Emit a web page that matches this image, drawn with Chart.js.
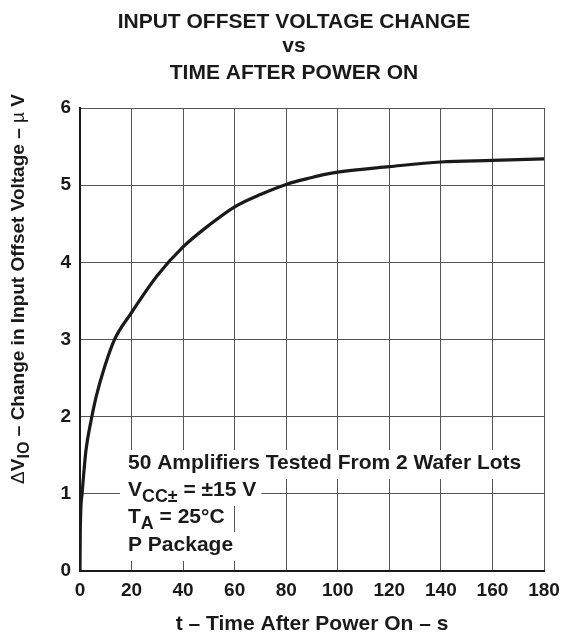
<!DOCTYPE html>
<html>
<head>
<meta charset="utf-8">
<script src="https://cdn.jsdelivr.net/npm/chart.js@4.4.0/dist/chart.umd.min.js"></script>
<style>
  html, body { margin: 0; padding: 0; background: #fff; }
</style>
</head>
<body>
<canvas id="offsetChart" width="562" height="637"></canvas>
<script>
// chart data
const titleLines = ['INPUT OFFSET VOLTAGE CHANGE', 'vs', 'TIME AFTER POWER ON'];
const timeS    = [0, 0.1, 0.8, 2.3, 4.3, 6.2, 9.5, 13.4, 19.6, 30, 40, 50, 60, 70, 80, 90, 95, 100, 120, 140, 160, 180];
const deltaVio = [0, 0.5, 1.0, 1.56, 1.95, 2.25, 2.64, 3.0, 3.33, 3.83, 4.2, 4.48, 4.72, 4.88, 5.01, 5.10, 5.14, 5.17, 5.24, 5.30, 5.32, 5.34];
const xTitle = 't \u2013 Time After Power On \u2013 s';
const noteLines = [
  [{ t: '50 Amplifiers Tested From 2 Wafer Lots' }],
  [{ t: 'V' }, { t: 'CC\u00b1', sub: true }, { t: ' = \u00b115 V' }],
  [{ t: 'T' }, { t: 'A', sub: true }, { t: ' = 25\u00b0C' }],
  [{ t: 'P Package' }]
];

const FONT = '"Liberation Sans", Arial, Helvetica, sans-serif';

function drawRich(ctx, parts, x, y, size) {
  parts.forEach(p => {
    const s = p.sub ? size * 0.85 : size;
    ctx.font = (p.thin ? '' : 'bold ') + s + 'px ' + FONT;
    ctx.fillText(p.t, x, y + (p.sub ? size * 0.28 : 0));
    x += ctx.measureText(p.t).width;
  });
  return x;
}

function richWidth(ctx, parts, size) {
  let w = 0;
  parts.forEach(p => {
    const s = p.sub ? size * 0.85 : size;
    ctx.font = (p.thin ? '' : 'bold ') + s + 'px ' + FONT;
    w += ctx.measureText(p.t).width;
  });
  return w;
}

const textPlugin = {
  id: 'datasheetText',
  afterDraw(chart) {
    const ctx = chart.ctx;
    ctx.save();
    ctx.fillStyle = '#1a1a1a';
    ctx.textBaseline = 'alphabetic';

    // title
    ctx.textAlign = 'center';
    ctx.font = 'bold 21px ' + FONT;
    const titleY = [28, 52, 79];
    titleLines.forEach((l, i) => ctx.fillText(l, 294, titleY[i]));

    // notes with white backing
    ctx.textAlign = 'left';
    const noteX = 128, noteY = [469, 496, 523, 551], size = 21;
    noteLines.forEach((parts, i) => {
      const w = richWidth(ctx, parts, size);
      ctx.fillStyle = '#fff';
      ctx.fillRect(noteX - 8, noteY[i] - 19, w + 13, 29);
    });
    ctx.fillStyle = '#1a1a1a';
    noteLines.forEach((parts, i) => drawRich(ctx, parts, noteX, noteY[i], size));

    // rotated y title
    const yParts = [
      { t: '\u0394', thin: true }, { t: 'V' }, { t: 'IO', sub: true },
      { t: ' \u2013 Change in Input Offset Voltage \u2013 ' }, { t: '\u00b5', thin: true }, { t: ' V' }
    ];
    const yw = richWidth(ctx, yParts, 19);
    ctx.translate(24, 289);
    ctx.rotate(-Math.PI / 2);
    drawRich(ctx, yParts, -yw / 2, 0, 19);
    ctx.restore();
  }
};

new Chart(document.getElementById('offsetChart'), {
  type: 'line',
  data: {
    datasets: [{
      data: timeS.map((t, i) => ({ x: t, y: deltaVio[i] })),
      borderColor: '#1a1a1a',
      borderWidth: 3.2,
      pointRadius: 0,
      fill: false,
      cubicInterpolationMode: 'monotone'
    }]
  },
  options: {
    responsive: false,
    animation: false,
    layout: { padding: { top: 108, right: 18, left: 0, bottom: 0 } },
    plugins: {
      legend: { display: false },
      tooltip: { enabled: false },
      title: { display: false }
    },
    scales: {
      x: {
        type: 'linear',
        min: 0,
        max: 180,
        ticks: { stepSize: 20, color: '#1a1a1a', padding: 8, maxRotation: 0, font: { family: FONT, size: 19, weight: 'bold' } },
        grid: { color: '#555', lineWidth: 1, drawTicks: false },
        border: { color: '#1a1a1a', width: 2 },
        title: { display: true, text: xTitle, color: '#1a1a1a', padding: { top: 0, bottom: 0 }, font: { family: FONT, size: 21, weight: 'bold' } },
        afterFit(scale) {
          scale.height = 66;
          scale.paddingLeft = 0;
          scale.paddingRight = 0;
        }
      },
      y: {
        min: 0,
        max: 6,
        ticks: { stepSize: 1, color: '#1a1a1a', padding: 9, font: { family: FONT, size: 19, weight: 'bold' } },
        grid: { color: '#555', lineWidth: 1, drawTicks: false },
        border: { color: '#1a1a1a', width: 2 },
        afterFit(scale) { scale.width = 80; }
      }
    }
  },
  plugins: [textPlugin, {
    id: 'whiteBg',
    beforeDraw(chart) {
      const ctx = chart.ctx;
      ctx.save();
      ctx.fillStyle = '#fff';
      ctx.fillRect(0, 0, chart.width, chart.height);
      ctx.restore();
    }
  }]
});
</script>
</body>
</html>
